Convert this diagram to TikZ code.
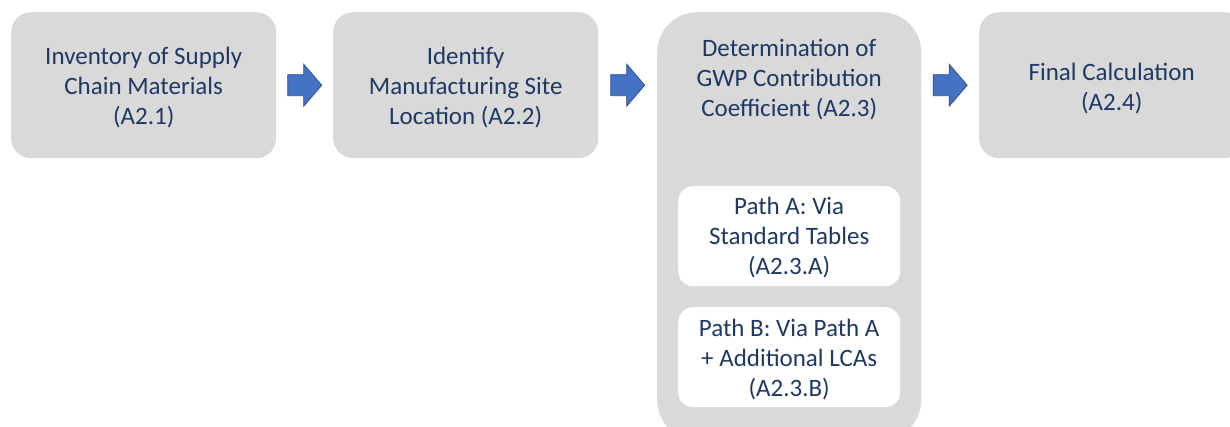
\documentclass[tikz,border=0pt]{standalone}
\usepackage{fontspec}
\setmainfont{Carlito}
\usetikzlibrary{calc}
\definecolor{boxgray}{HTML}{D9D9D9}
\definecolor{navy}{HTML}{1F3864}
\definecolor{arrowblue}{HTML}{4472C4}
\definecolor{arrowedge}{HTML}{2F528F}
\tikzset{
  stage/.style={fill=boxgray, draw=none, rounded corners=20pt, minimum width=265pt, minimum height=146pt, inner sep=0pt},
  bigstage/.style={fill=boxgray, draw=none, rounded corners=40pt, minimum width=264pt, minimum height=428pt, inner sep=0pt},
  subbox/.style={fill=white, draw=none, rounded corners=15pt, minimum width=222pt, minimum height=100pt, inner sep=0pt},
  txt/.style={text=navy, align=center, font=\fontsize{25}{30}\selectfont, inner sep=0pt},
  blockarrow/.style={fill=arrowblue, draw=arrowedge, line width=0.8pt, line join=miter}
}
\begin{document}
\begin{tikzpicture}[x=1pt,y=-1pt]
\useasboundingbox (0,0) rectangle (1230,426);
\clip (0,0) rectangle (1230,426);
% stage boxes
\node[stage, anchor=north west] (b1) at (11,12) {};
\node[txt] (b1t) at ($(b1.center)+(0,2)$) {Inventory of Supply\\Chain Materials\\(A2.1)};
\node[stage, anchor=north west] (b2) at (333,12) {};
\node[txt] (b2t) at ($(b2.center)+(0,2)$) {Identify\\Manufacturing Site\\Location (A2.2)};
\node[bigstage, anchor=north west] (b3) at (657,12) {};
\node[txt] (b3t) at ($(b3.north)+(0,68)$) {Determination of\\GWP Contribution\\Coefficient (A2.3)};
\node[stage, anchor=north west] (b4) at (979,12) {};
\node[txt] (b4t) at ($(b4.center)+(0,3)$) {Final Calculation\\(A2.4)};
% sub boxes
\node[subbox, anchor=north west] (pa) at (678,186) {};
\node[txt] (pat) at ($(pa.center)+(0,1)$) {Path A: Via\\Standard Tables\\(A2.3.A)};
\node[subbox, anchor=north west] (pb) at (678,307) {};
\node[txt] (pbt) at ($(pb.center)+(0,2)$) {Path B: Via Path A\\+ Additional LCAs\\(A2.3.B)};
% arrows
\coordinate (c1) at ($(b1.east)!0.5!(b2.west)$);
\coordinate (c2) at ($(b2.east)!0.5!(b3.west |- b2.east)$);
\coordinate (c3) at ($(b3.east |- b4.west)!0.5!(b4.west)$);
\foreach \c in {c1,c2,c3}{
  \draw[blockarrow] ($(\c)+(0,0)$) ++(-17,-10.5) -- ++(16,0) -- ++(0,-10.5) -- ++(18,21) -- ++(-18,21) -- ++(0,-10.5) -- ++(-16,0) -- cycle;
}
\end{tikzpicture}
\end{document}
